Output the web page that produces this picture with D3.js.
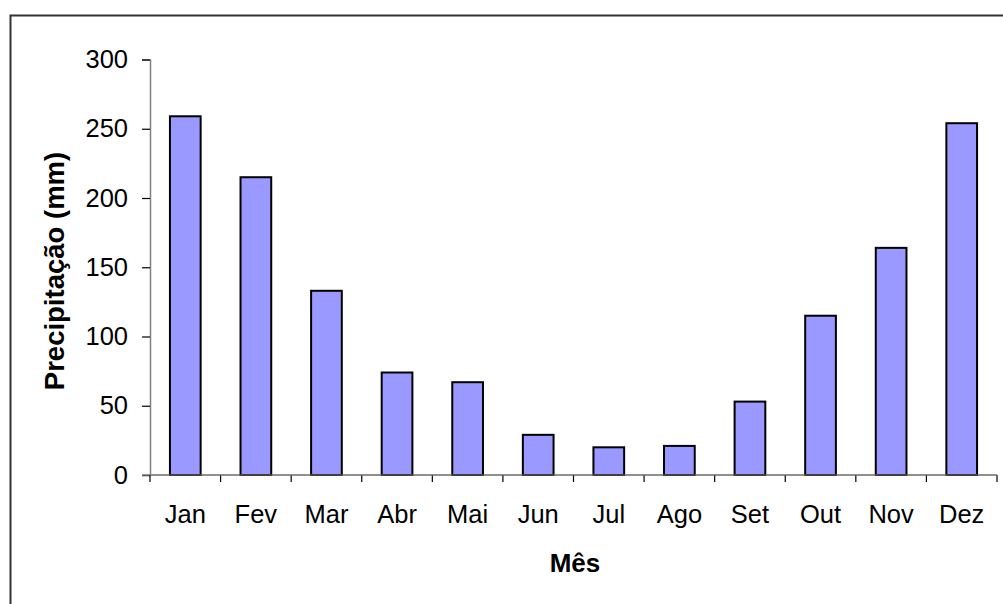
<!DOCTYPE html>
<html>
<head>
<meta charset="utf-8">
<script src="https://cdn.jsdelivr.net/npm/d3@7"></script>
<style>
  html, body { margin: 0; padding: 0; background: #fff; }
  svg { display: block; font-family: "Liberation Sans", Arial, sans-serif; }
</style>
</head>
<body>
<svg id="chart" width="1003" height="604"></svg>
<script>
// Monthly rainfall (mm)
const months = ["Jan", "Fev", "Mar", "Abr", "Mai", "Jun", "Jul", "Ago", "Set", "Out", "Nov", "Dez"];
const rainfall = [259, 215, 133, 74, 67, 29, 20, 21, 53, 115, 164, 254];
const yTicks = [0, 50, 100, 150, 200, 250, 300];
const yTitle = "Precipitação (mm)";
const xTitle = "Mês";

const svg = d3.select("#chart");

// outer frame of the chart area (runs past the right and bottom edges)
svg.append("rect")
  .attr("x", 10.5).attr("y", 15.5)
  .attr("width", 1010).attr("height", 610)
  .attr("fill", "none")
  .attr("stroke", "#333")
  .attr("stroke-width", 2);

const plot = { left: 150, right: 997, top: 59.5, bottom: 475 };

const x = d3.scaleBand()
  .domain(months)
  .range([plot.left, plot.right])
  .paddingInner(0.565)
  .paddingOuter(0.2825);

const step = x.step();

const y = d3.scaleLinear()
  .domain([0, 300])
  .range([plot.bottom, plot.top]);

const axisColor = "#808080";

// y axis
const yAxis = svg.append("g")
  .attr("transform", `translate(${plot.left},0)`)
  .call(d3.axisLeft(y).tickValues(yTicks).tickSize(8).tickPadding(14).tickFormat(d3.format("d")));
yAxis.select(".domain").attr("stroke", axisColor).attr("stroke-width", 1.5);
yAxis.selectAll(".tick line").attr("stroke", "#000").attr("stroke-width", 1.2);
yAxis.selectAll(".tick text")
  .attr("fill", "#000")
  .style("font-size", "25.5px")
  .style("font-family", "'Liberation Sans', Arial, sans-serif");

// x axis line with ticks on category boundaries
const xg = svg.append("g");
xg.append("line")
  .attr("x1", plot.left - 8).attr("x2", plot.right)
  .attr("y1", plot.bottom).attr("y2", plot.bottom)
  .attr("stroke", axisColor).attr("stroke-width", 1.5);
const boundaries = d3.range(months.length + 1).map(i => plot.left + i * step);
xg.selectAll("line.tk").data(boundaries).join("line")
  .attr("class", "tk")
  .attr("x1", d => d).attr("x2", d => d)
  .attr("y1", plot.bottom).attr("y2", plot.bottom + 7)
  .attr("stroke", "#000").attr("stroke-width", 1.2);

xg.selectAll("text.mlab").data(months).join("text")
  .attr("class", "mlab")
  .attr("x", d => x(d) + x.bandwidth() / 2)
  .attr("y", 523)
  .attr("text-anchor", "middle")
  .attr("fill", "#000")
  .style("font-size", "25.5px")
  .text(d => d);

// bars
svg.append("g").selectAll("rect").data(months).join("rect")
  .attr("x", d => x(d))
  .attr("y", (d, i) => y(rainfall[i]))
  .attr("width", x.bandwidth())
  .attr("height", (d, i) => y(0) - y(rainfall[i]))
  .attr("fill", "#9999FF")
  .attr("stroke", "#000")
  .attr("stroke-width", 2);

// redraw the baseline over the bar bottoms
svg.append("line")
  .attr("x1", plot.left).attr("x2", plot.right)
  .attr("y1", plot.bottom).attr("y2", plot.bottom)
  .attr("stroke", axisColor).attr("stroke-width", 1.2);

// axis titles
svg.append("text")
  .attr("x", 575).attr("y", 572)
  .attr("text-anchor", "middle")
  .style("font-size", "26px").style("font-weight", "bold")
  .text(xTitle);

svg.append("text")
  .attr("transform", "translate(64,271) rotate(-90)")
  .attr("text-anchor", "middle")
  .style("font-size", "27.5px").style("font-weight", "bold")
  .text(yTitle);
</script>
</body>
</html>
